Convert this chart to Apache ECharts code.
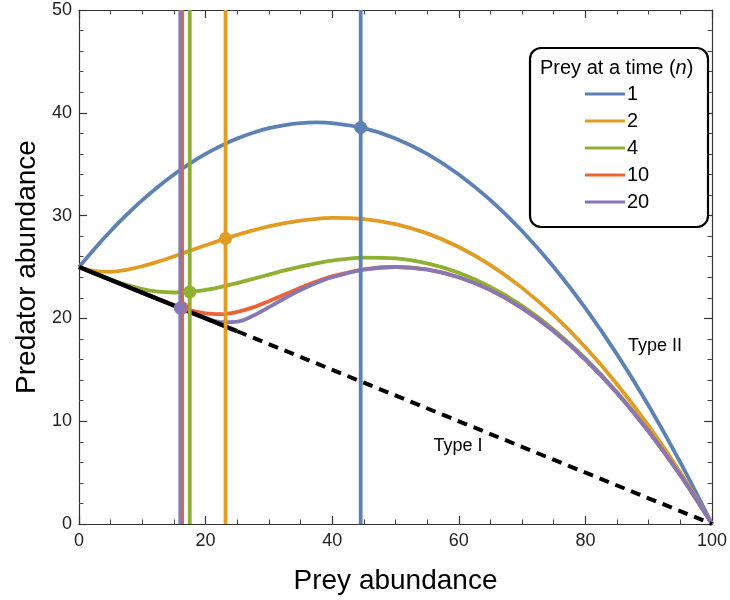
<!DOCTYPE html>
<html>
<head>
<meta charset="utf-8">
<script src="https://cdn.jsdelivr.net/npm/echarts@6/dist/echarts.min.js"></script>
<style>
html,body{margin:0;padding:0;background:#fff;}
#c{width:730px;height:600px;}
</style>
</head>
<body>
<div id="c"></div>
<script>
// Prey abundance sample points
const preyX = [0,2.5,5,7.5,10,12.5,15,17.5,20,22.5,25,27.5,30,32.5,35,37.5,40,45,50,55,60,65,70,75,80,85,90,95,100];
// Predator abundance (prey isoclines) for n = 1, 2, 4, 10, 20
const predN1  = [25,26.81,28.5,30.06,31.5,32.81,34,35.06,36,36.81,37.5,38.06,38.5,38.81,39,39.06,39,38.5,37.5,36,34,31.5,28.5,25,21,16.5,11.5,6,0];
const predN2  = [25,24.60,24.54,24.73,25.07,25.52,26.03,26.57,27.11,27.63,28.13,28.57,28.95,29.27,29.52,29.69,29.77,29.66,29.17,28.27,26.94,25.18,22.97,20.31,17.19,13.60,9.54,5.01,0];
const predN4  = [25,24.38,23.78,23.26,22.85,22.60,22.52,22.58,22.78,23.07,23.44,23.84,24.26,24.67,25.04,25.36,25.62,25.91,25.83,25.35,24.44,23.06,21.22,18.91,16.11,12.82,9.04,4.77,0];
const predN10 = [25,24.38,23.75,23.13,22.50,21.89,21.30,20.80,20.48,20.41,20.63,21.07,21.67,22.33,22.98,23.58,24.08,24.78,25.01,24.76,24.00,22.75,21.00,18.75,16.00,12.75,9.00,4.75,0];
const predN20 = [25,24.38,23.75,23.13,22.50,21.88,21.25,20.63,20.05,19.64,19.69,20.25,21.09,21.96,22.76,23.44,24.00,24.75,25.00,24.75,24.00,22.75,21.00,18.75,16.00,12.75,9.00,4.75,0];
// Type I line: solid part then dashed continuation
const typeIX = [0,25,100];
const typeIY = [25,18.75,0];
// Predator isoclines (vertical lines) and equilibria
const seriesNames = ['1','2','4','10','20'];
const isoX = [44.5,23.15,17.5,16.3,16.0];
const eqY  = [38.57,27.77,22.58,21.03,21.0];
const yRange = [0,50];
const xTicks = [0,20,40,60,80,100];
const yTicks = [0,10,20,30,40,50];

const colors = ['#5E81B5','#E19C24','#8FB032','#EB6235','#8778B3'];
const FF = "'Liberation Sans', Arial, Helvetica, sans-serif";
const curves = [predN1,predN2,predN4,predN10,predN20];

const series = [];
curves.forEach((arr,i)=>{
  series.push({
    name: seriesNames[i], type:'line', data: preyX.map((x,j)=>[x,arr[j]]),
    smooth: 0.35, showSymbol:false, symbol:'none',
    lineStyle:{color:colors[i], width:3.8}, itemStyle:{color:colors[i]}, z:2
  });
});
series.push({
  name:'typeI_solid', type:'line', data:[[typeIX[0],typeIY[0]],[typeIX[1],typeIY[1]]],
  symbol:'none', lineStyle:{color:'#000', width:4.5}, z:3
});
series.push({
  name:'typeI_dashed', type:'line', data:[[typeIX[1],typeIY[1]],[typeIX[2],typeIY[2]]],
  symbol:'none', lineStyle:{color:'#000', width:4, type:[10,7]}, z:3
});
isoX.forEach((x,i)=>{
  series.push({
    name:'iso'+i, type:'line', data:[[x,yRange[0]],[x,yRange[1]]],
    symbol:'none', lineStyle:{color:colors[i], width:3.8}, z:4
  });
});
isoX.forEach((x,i)=>{
  series.push({
    name:'eq'+i, type:'scatter', data:[[x,eqY[i]]],
    symbol:'circle', symbolSize:13, itemStyle:{color:colors[i], opacity:1}, z:5
  });
});

function mkAxis(extra, minorSplit){
  return Object.assign({
    type:'value',
    axisLine:{show:true, onZero:false, lineStyle:{color:'#333', width:1.2}},
    axisTick:{show:true, inside:true, length:8, lineStyle:{color:'#333', width:1.2}},
    minorTick:{show:true, splitNumber:minorSplit, length:4.5, lineStyle:{color:'#444', width:1}},
    splitLine:{show:false}
  }, extra);
}

const chart = echarts.init(document.getElementById('c'), null, {renderer:'canvas'});
chart.setOption({
  animation:false,
  backgroundColor:'#fff',
  grid:{left:79, right:16, top:10, bottom:76, containLabel:false},
  xAxis:[
    mkAxis({
      position:'bottom', min:0, max:100, interval:20,
      axisLabel:{show:true, fontSize:18, color:'#222', fontFamily:FF, margin:8,
        formatter:(v)=> xTicks.includes(v) ? String(v) : ''},
      name:'Prey abundance', nameLocation:'middle', nameGap:43,
      nameTextStyle:{fontSize:28, color:'#000', fontFamily:FF}
    }, 4),
    mkAxis({position:'top', min:0, max:100, interval:20, axisLabel:{show:false}}, 4)
  ],
  yAxis:[
    mkAxis({
      position:'left', min:yRange[0], max:yRange[1], interval:10,
      axisLabel:{show:true, fontSize:18, color:'#222', fontFamily:FF, margin:7,
        formatter:(v)=> yTicks.includes(v) ? String(v) : ''},
      name:'Predator abundance', nameLocation:'middle', nameGap:38,
      nameTextStyle:{fontSize:28, color:'#000', fontFamily:FF}
    }, 5),
    mkAxis({position:'right', min:yRange[0], max:yRange[1], interval:10, axisLabel:{show:false}}, 5)
  ],
  legend:{
    data:seriesNames, orient:'vertical', left:585, top:84, z:20,
    itemWidth:40, itemHeight:3, itemGap:7, padding:0, icon:'rect',
    selectedMode:false,
    textStyle:{fontSize:20, color:'#000', fontFamily:FF, padding:[0,0,0,-3]}
  },
  graphic:[
    {type:'rect', z:1, shape:{x:530, y:48, width:178, height:179, r:11},
      style:{fill:'#fff', stroke:'#000', lineWidth:2.2}},
    {type:'text', z:11, style:{x:540, y:68, verticalAlign:'middle', align:'left',
      text:'{a|Prey at a time (}{b|n}{a|)}',
      rich:{a:{fontSize:20, fontFamily:FF, fill:'#000'}, b:{fontSize:20, fontFamily:FF, fontStyle:'italic', fill:'#000'}}}},
    {type:'text', z:11, style:{x:655, y:346, align:'center', verticalAlign:'middle',
      text:'Type II', fontSize:18, fontFamily:FF, fill:'#000'}},
    {type:'text', z:11, style:{x:458, y:446, align:'center', verticalAlign:'middle',
      text:'Type I', fontSize:18, fontFamily:FF, fill:'#000'}}
  ],
  series:series
});
</script>
</body>
</html>
